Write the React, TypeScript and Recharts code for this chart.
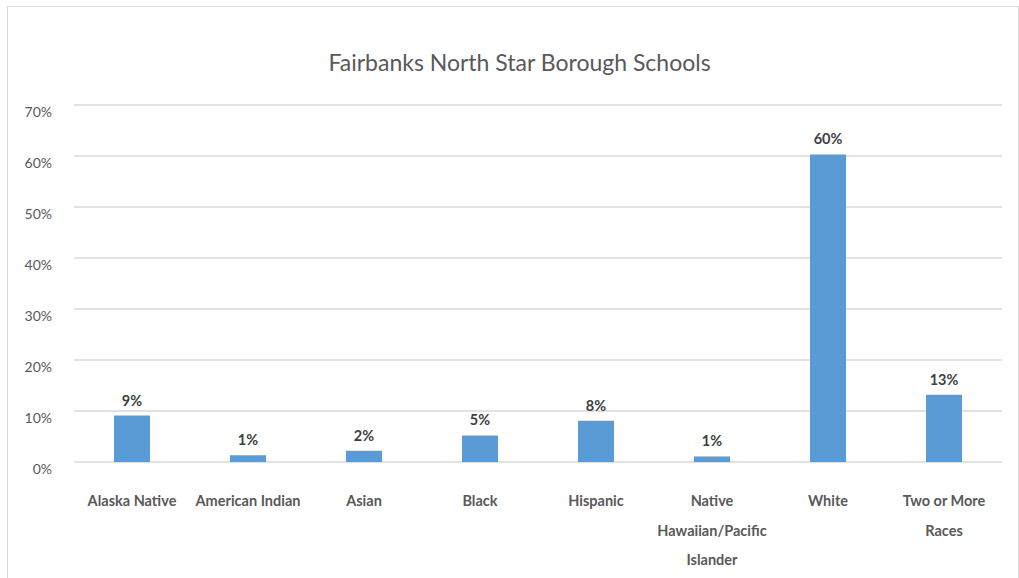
import React from 'react';
import { BarChart, Bar, XAxis, YAxis, CartesianGrid, LabelList } from 'recharts';

const categories = [
  'Alaska Native',
  'American Indian',
  'Asian',
  'Black',
  'Hispanic',
  'Native Hawaiian/Pacific Islander',
  'White',
  'Two or More Races',
];
const shares = [9.1, 1.3, 2.2, 5.2, 8.1, 1.1, 60.3, 13.2];
const yTicks = [0, 10, 20, 30, 40, 50, 60, 70];

const data = categories.map((name, i) => ({ name, value: shares[i] }));

const FONT = 'Lato, "Open Sans", sans-serif';

// rough word wrap for the category labels
const wrap = (text: string, maxChars: number) => {
  const words = text.split(' ');
  const lines: string[] = [];
  let cur = '';
  words.forEach(w => {
    const next = cur ? cur + ' ' + w : w;
    if (next.length > maxChars && cur) {
      lines.push(cur);
      cur = w;
    } else {
      cur = next;
    }
  });
  if (cur) lines.push(cur);
  return lines;
};

const CategoryTick = (props: any) => {
  const { x, y, payload } = props;
  const lines = wrap(payload.value, 15);
  return (
    <text x={x} y={y} textAnchor="middle" fill="#595959" fontSize={14.5} fontWeight="bold" fontFamily={FONT}>
      {lines.map((l, i) => (
        <tspan key={i} x={x} dy={i === 0 ? 36 : 29.5}>{l}</tspan>
      ))}
    </text>
  );
};

const PercentTick = (props: any) => {
  const { y, payload } = props;
  return (
    <text x={52} y={y} dy={12} textAnchor="end" fill="#595959" fontSize={14} fontFamily={FONT}>
      {payload.value}%
    </text>
  );
};

export default function App() {
  return (
    <div style={{ position: 'absolute', left: 0, top: 0, width: 1019, height: 578, background: '#fff', overflow: 'hidden' }}>
      <div
        style={{
          position: 'absolute',
          left: 7,
          top: 6,
          width: 1010,
          height: 600,
          borderLeft: '1px solid #d9d9d9',
          borderTop: '1px solid #d9d9d9',
          borderRight: '1px solid #d9d9d9',
        }}
      />
      <div
        style={{
          position: 'absolute',
          left: 0,
          top: 48,
          width: 1039,
          textAlign: 'center',
          fontFamily: FONT,
          fontSize: 23,
          color: '#595959',
        }}
      >
        Fairbanks North Star Borough Schools
      </div>
      <div style={{ position: 'absolute', left: 0, top: 0 }}>
        <BarChart width={1019} height={578} data={data} margin={{ top: 105, right: 17, bottom: 86, left: 0 }}>
          <CartesianGrid vertical={false} stroke="#d9d9d9" strokeWidth={1.5} />
          <XAxis dataKey="name" height={30} axisLine={false} tickLine={false} interval={0} tick={<CategoryTick />} />
          <YAxis
            width={74}
            domain={[0, 70]}
            ticks={yTicks}
            axisLine={false}
            tickLine={false}
            tick={<PercentTick />}
          />
          <Bar dataKey="value" fill="#5b9bd5" barSize={36} isAnimationActive={false}>
            <LabelList
              dataKey="value"
              position="top"
              offset={10}
              formatter={(v: any) => `${Math.round(v)}%`}
              style={{ fill: '#404040', fontSize: 14.5, fontWeight: 'bold', fontFamily: FONT }}
            />
          </Bar>
        </BarChart>
      </div>
    </div>
  );
}
